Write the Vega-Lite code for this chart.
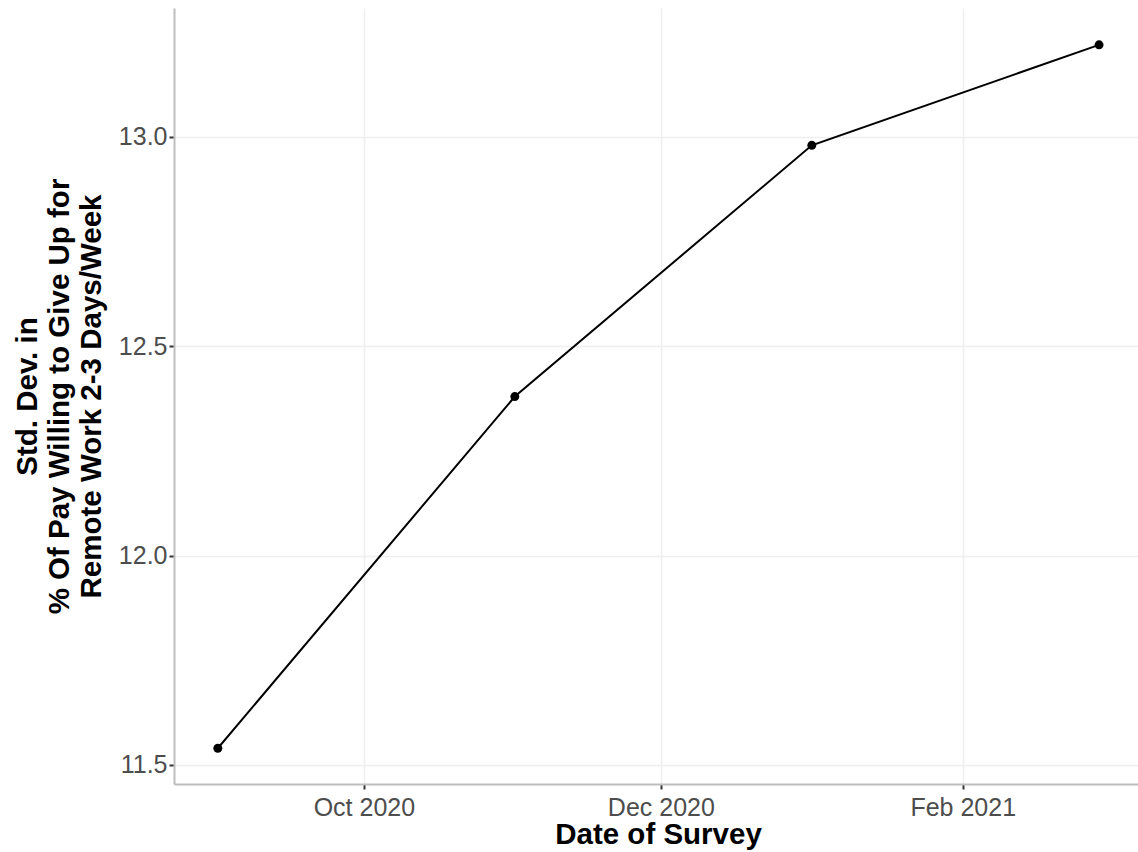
{
  "$schema": "https://vega.github.io/schema/vega-lite/v6.json",
  "width": 964,
  "height": 776,
  "autosize": {"type": "none"},
  "padding": {"left": 174, "top": 8, "right": 0, "bottom": 68},
  "background": "white",
  "config": {
    "view": {"stroke": null},
    "font": "Liberation Sans",
    "axis": {
      "labelFont": "Liberation Sans",
      "titleFont": "Liberation Sans",
      "labelColor": "#4d4d4d",
      "labelFontSize": 25,
      "titleFontSize": 29.5,
      "titleFontWeight": "bold",
      "titleColor": "#000000",
      "domainColor": "#bdbdbd",
      "domainWidth": 2,
      "tickColor": "#333333",
      "tickSize": 5,
      "tickWidth": 2,
      "gridColor": "#efefef",
      "gridWidth": 1.5
    }
  },
  "data": {
    "values": [
      {"date": "2020-09-01", "sd": 11.54},
      {"date": "2020-11-01", "sd": 12.38},
      {"date": "2021-01-01", "sd": 12.98},
      {"date": "2021-03-01", "sd": 13.22}
    ]
  },
  "encoding": {
    "x": {
      "field": "date",
      "type": "temporal",
      "scale": {
        "type": "utc",
        "domain": [
          {"year": 2020, "month": 8, "date": 23, "utc": true},
          {"year": 2021, "month": 3, "date": 9, "utc": true}
        ],
        "nice": false
      },
      "axis": {
        "title": "Date of Survey",
        "values": [
          {"year": 2020, "month": 10, "date": 1, "utc": true},
          {"year": 2020, "month": 12, "date": 1, "utc": true},
          {"year": 2021, "month": 2, "date": 1, "utc": true}
        ],
        "labelExpr": "utcFormat(datum.value, '%b %Y')",
        "labelPadding": 6,
        "titleBaseline": "alphabetic",
        "titleY": 59,
        "titleX": 484,
        "titleAlign": "center",
        "labelFlush": false,
        "labelOverlap": false
      }
    },
    "y": {
      "field": "sd",
      "type": "quantitative",
      "scale": {"domain": [11.4546, 13.308], "nice": false, "zero": false},
      "axis": {
        "title": ["Std. Dev. in", "% Of Pay Willing to Give Up for", "Remote Work 2-3 Days/Week"],
        "values": [11.5, 12.0, 12.5, 13.0],
        "format": ".1f",
        "labelPadding": 2,
        "titleAngle": -90,
        "titleAlign": "center",
        "titleBaseline": "alphabetic",
        "titleLineHeight": 32,
        "titleX": -138,
        "titleY": 388,
        "labelFlush": false,
        "labelOverlap": false
      }
    }
  },
  "layer": [
    {"mark": {"type": "line", "color": "#000000", "strokeWidth": 2}},
    {"mark": {"type": "point", "filled": true, "color": "#000000", "opacity": 1, "size": 80}}
  ]
}
